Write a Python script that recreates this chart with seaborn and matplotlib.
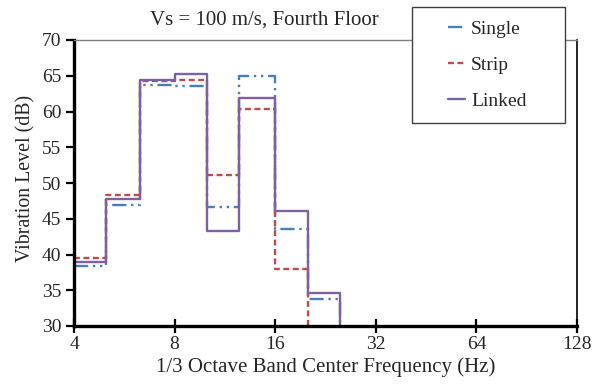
import numpy as np
import pandas as pd
import seaborn as sns
import matplotlib
matplotlib.use("Agg")
import matplotlib.pyplot as plt
from matplotlib.patches import Rectangle
from matplotlib.ticker import FixedLocator, FixedFormatter, NullLocator

# ---- data ----
freqs = [4, 5, 6.3, 8, 10, 12.5, 16, 20, 25]
single = [38.4, 46.9, 63.7, 63.5, 46.7, 64.9, 43.5, 33.8, 28.0]
strip = [39.5, 48.3, 64.2, 64.4, 51.1, 60.4, 38.0, 28.0, 27.0]
linked = [38.9, 47.7, 64.4, 65.2, 43.3, 61.9, 46.1, 34.6, 28.0]
series_names = ["Single", "Strip", "Linked"]
x_ticks = [4, 8, 16, 32, 64, 128]
x_tick_labels = ["4", "8", "16", "32", "64", "128"]
y_ticks = [30, 35, 40, 45, 50, 55, 60, 65, 70]

df = pd.DataFrame({
    "freq": freqs * 3,
    "level": single + strip + linked,
    "series": sum([[n] * len(freqs) for n in series_names], []),
})

sns.set_theme(style="white")
plt.rcParams["font.family"] = ["Liberation Serif", "DejaVu Serif"]

fig = plt.figure(figsize=(5.96, 3.91), dpi=100)
ax = fig.add_axes([74 / 596, 1 - 326 / 391, (577 - 74) / 596, (326 - 40) / 391])

palette = {"Single": "#4A7EBB", "Strip": "#BE4B48", "Linked": "#7D60A0"}
dashes = {"Single": (6, 2, 1, 2, 1, 2), "Strip": (2.5, 1.5), "Linked": ""}
sns.lineplot(data=df, x="freq", y="level", hue="series", style="series",
             palette=palette, dashes=dashes, drawstyle="steps-post",
             linewidth=1.7, ax=ax, legend=True, estimator=None, sort=False)

ax.set_xscale("log", base=2)
ax.set_xlim(4, 128)
ax.set_ylim(30, 70)
ax.xaxis.set_major_locator(FixedLocator(x_ticks))
ax.xaxis.set_major_formatter(FixedFormatter(x_tick_labels))
ax.xaxis.set_minor_locator(NullLocator())
ax.set_yticks(y_ticks)
ax.tick_params(axis="x", which="major", direction="inout", length=10, width=1.6,
               color="black", labelsize=14, pad=2, bottom=True)
ax.tick_params(axis="y", which="major", direction="out", length=6, width=1.6,
               color="black", labelsize=14, pad=3, left=True)

ax.set_xlabel("1/3 Octave Band Center Frequency (Hz)", fontsize=15, labelpad=3)
ax.set_ylabel("Vibration Level (dB)", fontsize=14.3)
ax.yaxis.set_label_coords(-0.077, 0.515)

for side in ["left", "bottom"]:
    ax.spines[side].set_color("black")
    ax.spines[side].set_linewidth(2.4)
ax.spines["top"].set_color("#808080")
ax.spines["top"].set_linewidth(1.0)
ax.spines["right"].set_color("black")
ax.spines["right"].set_linewidth(1.2)

handles, labels = ax.get_legend_handles_labels()
ax.get_legend().remove()

fig.text(264.5 / 596, 1 - 20 / 391, "Vs = 100 m/s, Fourth Floor", ha="center",
         va="center", fontsize=15)

rect = Rectangle((412 / 596, 1 - 123 / 391), (565 - 412) / 596, (123 - 7) / 391,
                 transform=fig.transFigure, facecolor="white", edgecolor="#404040",
                 linewidth=1.0, zorder=10)
fig.add_artist(rect)
leg = fig.legend(handles, labels, loc="center",
                 bbox_to_anchor=((412 + 565) / 2 / 596 - 0.002, 1 - 65 / 391),
                 bbox_transform=fig.transFigure, frameon=False, fontsize=14,
                 handlelength=0.9, handletextpad=0.3, labelspacing=0.95)
leg.set_zorder(11)

fig.savefig("out.png", dpi=100)
